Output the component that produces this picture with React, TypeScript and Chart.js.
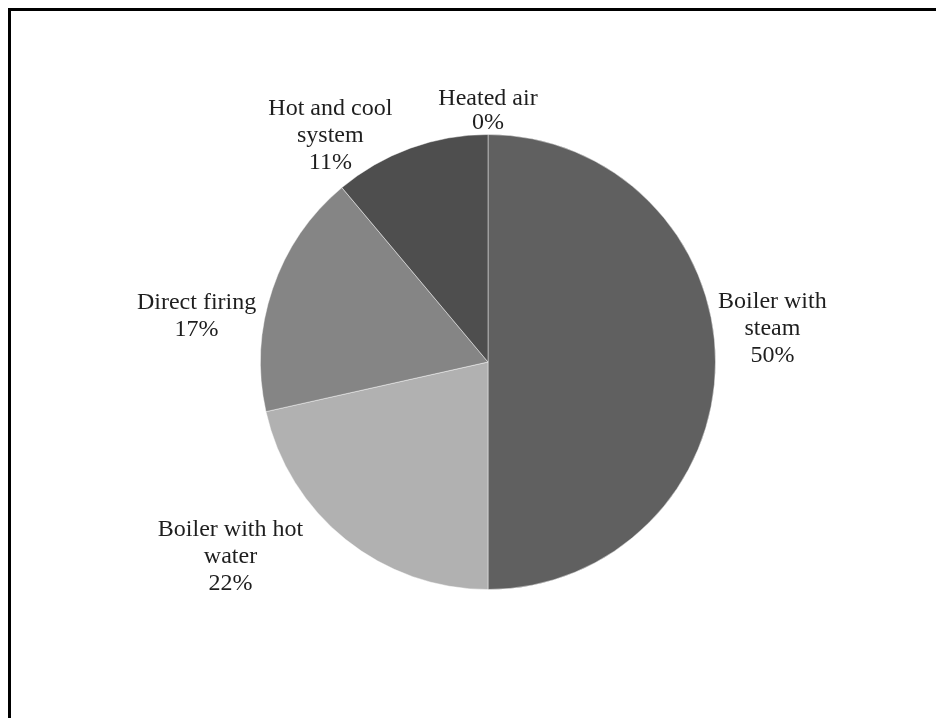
import React, { useEffect, useRef } from "react";
import { Chart, registerables } from "chart.js";

Chart.register(...registerables);

const categories = ["Boiler with steam", "Boiler with hot water", "Direct firing", "Hot and cool system", "Heated air"];
const values = [50, 21.5, 17.4, 11.1, 0];
const labelLines = [
  ["Boiler with", "steam", "50%"],
  ["Boiler with hot", "water", "22%"],
  ["Direct firing", "17%"],
  ["Hot and cool", "system", "11%"],
  ["Heated air", "0%"],
];
const colors = ["#606060", "#b1b1b1", "#858585", "#4e4e4e", "#9a9a9a"];

// label placement relative to pie centre, in units of the outer radius
const labelOffsets = [
  [1.25, -0.145],
  [-1.132, 0.855],
  [-1.281, -0.202],
  [-0.693, -0.996],
  [0, -1.105],
];

const labelPlugin = {
  id: "pieLabels",
  afterDatasetsDraw(chart: any) {
    const meta = chart.getDatasetMeta(0);
    const ctx = chart.ctx;
    ctx.save();
    ctx.font = "24px 'Liberation Serif', 'Times New Roman', serif";
    ctx.fillStyle = "#1e1e1e";
    ctx.textAlign = "center";
    ctx.textBaseline = "middle";
    meta.data.forEach((arc: any, i: number) => {
      const { x, y, outerRadius } = arc.getProps(["x", "y", "outerRadius"], true);
      const [ox, oy] = labelOffsets[i];
      const cx = x + ox * outerRadius;
      const cy = y + oy * outerRadius;
      const lines = labelLines[i];
      const lh = i === 4 ? 24 : 27;
      const start = cy - ((lines.length - 1) * lh) / 2;
      lines.forEach((t, j) => ctx.fillText(t, cx, start + j * lh));
    });
    ctx.restore();
  },
};

export default function App() {
  const ref = useRef<HTMLCanvasElement>(null);
  useEffect(() => {
    document.documentElement.style.overflow = "hidden";
    document.body.style.overflow = "hidden";
    if (!ref.current) return;
    const chart = new Chart(ref.current, {
      type: "pie",
      data: {
        labels: categories,
        datasets: [
          {
            data: values,
            backgroundColor: colors,
            borderColor: "rgba(255,255,255,0.45)",
            borderWidth: 1,
          },
        ],
      },
      options: {
        responsive: false,
        animation: false,
        layout: { padding: { left: 249, right: 228, top: 123, bottom: 128 } },
        plugins: { legend: { display: false }, tooltip: { enabled: false } },
      },
      plugins: [labelPlugin],
    });
    return () => chart.destroy();
  }, []);
  return (
    <div
      style={{
        borderTop: "3px solid #000",
        borderLeft: "3px solid #000",
        width: 933,
        height: 707,
        boxSizing: "content-box",
        background: "#fff",
      }}
    >
      <canvas ref={ref} width={933} height={707} style={{ display: "block" }} />
    </div>
  );
}
